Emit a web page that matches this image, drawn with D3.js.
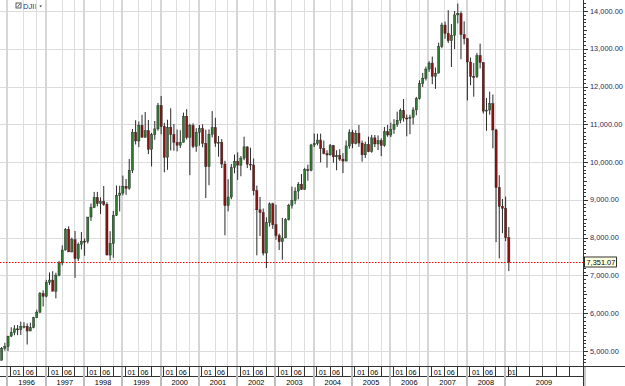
<!DOCTYPE html>
<html>
<head>
<meta charset="utf-8">
<script src="https://cdn.jsdelivr.net/npm/d3@7"></script>
<style>
  body { margin: 0; background: #fff; }
  svg { display: block; font-family: "Liberation Sans", Arial, sans-serif; }
</style>
</head>
<body>
<div id="chart"></div>
<script>
// monthly DJI candles, Nov 1995 .. Feb 2009
const firstMonth = new Date(1995, 10, 1)
const open = [
  4756, 5074,
  5117, 5395, 5486, 5587, 5569, 5643, 5655, 5529, 5616, 5882, 6029, 6522,
  6448, 6813, 6878, 6583, 7009, 7331, 7673, 8223, 7622, 7945, 7442, 7823,
  7908, 7907, 8546, 8800, 9063, 8900, 8952, 8883, 7539, 7843, 8592, 9117,
  9181, 9359, 9307, 9786, 10789, 10560, 10971, 10655, 10829, 10337, 10730, 10878,
  11497, 10941, 10128, 10922, 10734, 10522, 10448, 10522, 11215, 10651, 10971, 10414,
  10787, 10887, 10495, 9879, 10735, 10912, 10502, 10523, 9950, 8848, 9075, 9852,
  10022, 9920, 10106, 10404, 9946, 9925, 9243, 8737, 8664, 7592, 8397, 8896,
  8342, 8054, 7891, 7992, 8480, 8850, 8985, 9234, 9416, 9275, 9801, 9782,
  10454, 10488, 10584, 10358, 10226, 10188, 10435, 10140, 10174, 10080, 10027, 10428,
  10783, 10490, 10766, 10504, 10193, 10467, 10275, 10641, 10482, 10569, 10440, 10806,
  10718, 10865, 10993, 11109, 11367, 11168, 11150, 11186, 11381, 11679, 12081, 12222,
  12463, 12622, 12269, 12354, 13063, 13628, 13409, 13212, 13358, 13896, 13930, 13372,
  13265, 12650, 12266, 12263, 12820, 12638, 11350, 11378, 11544, 10851, 9325, 8829,
  8776, 8001
]
const high = [
  5106, 5217,
  5395, 5630, 5683, 5689, 5778, 5761, 5730, 5748, 5904, 6094, 6561, 6606,
  6883, 7079, 7113, 7071, 7383, 7796, 8254, 8299, 8000, 8178, 7874, 8149,
  7978, 8546, 8904, 9211, 9211, 9070, 9367, 8938, 8172, 8706, 9380, 9374,
  9643, 9553, 10085, 10878, 11108, 11075, 11252, 11326, 11116, 10772, 11089, 11568,
  11750, 11041, 11121, 11425, 11010, 10864, 10843, 11310, 11401, 11017, 11026, 10898,
  10984, 11002, 10858, 10866, 11350, 11175, 10690, 10610, 10035, 9545, 9951, 10200,
  10259, 10160, 10673, 10414, 10382, 10096, 9379, 9077, 8772, 8539, 8932, 8926,
  8869, 8109, 8522, 8515, 8897, 9352, 9334, 9470, 9686, 9849, 9933, 10484,
  10754, 10753, 10753, 10571, 10312, 10479, 10455, 10313, 10341, 10238, 10572, 10868,
  10854, 10845, 10984, 10570, 10542, 10675, 10720, 10719, 10705, 10632, 10931, 10984,
  11043, 11137, 11335, 11420, 11670, 11259, 11253, 11452, 11727, 12167, 12361, 12529,
  12671, 12795, 12505, 13162, 13693, 13720, 14022, 13657, 14000, 14198, 13990, 13727,
  13279, 12767, 12622, 12891, 13136, 12638, 11698, 11867, 11790, 10882, 9654, 9026,
  9088, 8280
]
const low = [
  4750, 5008,
  5000, 5370, 5418, 5420, 5424, 5602, 5171, 5525, 5600, 5870, 6004, 6180,
  6420, 6749, 6583, 6391, 6977, 7269, 7658, 7622, 7613, 6936, 7382, 7687,
  7522, 7844, 8444, 8780, 8828, 8628, 8844, 7539, 7400, 7468, 8575, 8695,
  9121, 9133, 9268, 9710, 10466, 10398, 10655, 10646, 10213, 9885, 10593, 10831,
  10738, 9731, 9796, 10306, 10299, 10284, 10374, 10521, 10600, 9654, 10367, 10273,
  10434, 10392, 9047, 9389, 10652, 10405, 10143, 9844, 8062, 8697, 9016, 9703,
  9529, 9626, 10052, 9841, 9785, 9120, 7532, 8043, 7528, 7197, 8295, 8233,
  7945, 7673, 7416, 7992, 8454, 8770, 8885, 9014, 9275, 9262, 9508, 9756,
  10397, 10442, 9991, 10206, 9852, 10179, 9984, 9784, 10031, 9708, 10025, 10354,
  10368, 10470, 10404, 10012, 10109, 10262, 10247, 10397, 10319, 10156, 10406, 10671,
  10661, 10749, 10932, 11029, 11071, 10683, 10740, 10996, 11239, 11655, 11988, 12160,
  12388, 12062, 11939, 12354, 13015, 13266, 13152, 12518, 12993, 13672, 12724, 13115,
  11634, 12036, 11731, 12224, 12479, 11288, 10827, 11255, 10365, 7882, 7449, 8119,
  7909, 7114
]
const close = [
  5074, 5117,
  5395, 5486, 5587, 5569, 5643, 5655, 5529, 5616, 5882, 6029, 6522, 6448,
  6813, 6878, 6583, 7009, 7331, 7673, 8223, 7622, 7945, 7442, 7823, 7908,
  7907, 8546, 8800, 9063, 8900, 8952, 8883, 7539, 7843, 8592, 9117, 9181,
  9359, 9307, 9786, 10789, 10560, 10971, 10655, 10829, 10337, 10730, 10878, 11497,
  10941, 10128, 10922, 10734, 10522, 10448, 10522, 11215, 10651, 10971, 10414, 10787,
  10887, 10495, 9879, 10735, 10912, 10502, 10523, 9950, 8848, 9075, 9852, 10022,
  9920, 10106, 10404, 9946, 9925, 9243, 8737, 8664, 7592, 8397, 8896, 8342,
  8054, 7891, 7992, 8480, 8850, 8985, 9234, 9416, 9275, 9801, 9782, 10454,
  10488, 10584, 10358, 10226, 10188, 10435, 10140, 10174, 10080, 10027, 10428, 10783,
  10490, 10766, 10504, 10193, 10467, 10275, 10641, 10482, 10569, 10440, 10806, 10718,
  10865, 10993, 11109, 11367, 11168, 11150, 11186, 11381, 11679, 12081, 12222, 12463,
  12622, 12269, 12354, 13063, 13628, 13409, 13212, 13358, 13896, 13930, 13372, 13265,
  12650, 12266, 12263, 12820, 12638, 11350, 11378, 11544, 10851, 9325, 8829, 8776,
  8001, 7351.07
]
const lastPrice = 7351.07
const years = [1996, 1997, 1998, 1999, 2000, 2001, 2002, 2003, 2004, 2005, 2006, 2007, 2008, 2009]
const yTicks = [5000, 6000, 7000, 8000, 9000, 10000, 11000, 12000, 13000, 14000]
const monthMarks = ["01", "06"]
const futureMarks = [159.4, 163.5, 167.7, 171.9, 176.1]   // empty boxes after last bar, month index

const W = 625, H = 386
const plot = {left: 0, right: 583, top: 0, bottom: 366}

const svg = d3.select("#chart").append("svg").attr("width", W).attr("height", H)
svg.append("rect").attr("width", W).attr("height", H).attr("fill", "#fff")

// month index 0 = Jan 1996
const xScale = d3.scaleLinear().domain([0, 156]).range([7.4, 505])
const yScale = d3.scaleLinear().domain([5000, 14000]).range([351, 11])

const bars = open.map((o, k) => {
  const d = d3.timeMonth.offset(firstMonth, k)
  return {idx: (d.getFullYear() - 1996) * 12 + d.getMonth(), o, h: high[k], l: low[k], c: close[k]}
})

svg.append("clipPath").attr("id", "clip").append("rect")
  .attr("x", plot.left).attr("y", plot.top)
  .attr("width", plot.right - plot.left).attr("height", plot.bottom - plot.top)
const g = svg.append("g").attr("clip-path", "url(#clip)")

// grid
const yearIdx = years.map(y => (y - 1996) * 12)
const thinIdx = []
yearIdx.slice(0, -1).forEach(i => { thinIdx.push(i + 5, i + 9) })
futureMarks.forEach(i => thinIdx.push(i))

g.selectAll(".hg").data(yTicks).join("line")
  .attr("x1", plot.left).attr("x2", plot.right)
  .attr("y1", d => Math.round(yScale(d)) + 0.5).attr("y2", d => Math.round(yScale(d)) + 0.5)
  .attr("stroke", "#dcdcdc")
g.selectAll(".vt").data(thinIdx).join("line")
  .attr("x1", d => Math.round(xScale(d)) + 0.5).attr("x2", d => Math.round(xScale(d)) + 0.5)
  .attr("y1", plot.top).attr("y2", plot.bottom)
  .attr("stroke", "#dedede")
g.selectAll(".vy").data(yearIdx).join("line")
  .attr("x1", d => Math.round(xScale(d))).attr("x2", d => Math.round(xScale(d)))
  .attr("y1", plot.top).attr("y2", plot.bottom)
  .attr("stroke", "#d6d6d6").attr("stroke-width", 2)

// candles
const cx = d => xScale(d.idx + 0.2)
g.selectAll(".wick").data(bars).join("line")
  .attr("x1", cx).attr("x2", cx)
  .attr("y1", d => yScale(d.h)).attr("y2", d => yScale(d.l))
  .attr("stroke", "#2a2a2a").attr("stroke-width", 1)
g.selectAll(".body").data(bars).join("rect")
  .attr("x", d => cx(d) - 1.1).attr("width", 2.2)
  .attr("y", d => yScale(Math.max(d.o, d.c)))
  .attr("height", d => Math.max(1, Math.abs(yScale(d.o) - yScale(d.c))))
  .attr("fill", d => d.c >= d.o ? "#2f7a32" : "#861414")
  .attr("stroke", "#222").attr("stroke-width", 0.4)

// last price line
const yLast = Math.round(yScale(lastPrice)) + 0.5
svg.append("line").attr("x1", plot.left).attr("x2", plot.right)
  .attr("y1", yLast).attr("y2", yLast)
  .attr("stroke", "#ff0000").attr("stroke-dasharray", "1.5,1.5")

// right axis
svg.append("line").attr("x1", plot.right + 0.5).attr("x2", plot.right + 0.5)
  .attr("y1", 0).attr("y2", H).attr("stroke", "#333")
const minor = d3.range(46, 143).map(v => v * 100)
svg.selectAll(".mt").data(minor).join("line")
  .attr("x1", plot.right + 1).attr("x2", d => plot.right + (d % 1000 === 0 ? 5 : (d % 500 === 0 ? 4 : 3)))
  .attr("y1", d => Math.round(yScale(d)) + 0.5).attr("y2", d => Math.round(yScale(d)) + 0.5)
  .attr("stroke", "#333")
svg.selectAll(".yl").data(yTicks).join("text")
  .attr("x", plot.right + 7).attr("y", d => yScale(d) + 2.6)
  .attr("font-size", 7.4).attr("fill", "#2a2a5c")
  .text(d => d3.format(",.2f")(d))

// last price tag
const tag = svg.append("g")
tag.append("rect").attr("x", plot.right + 1.5).attr("y", yLast - 5.5).attr("width", 32).attr("height", 10)
  .attr("fill", "#ffffe1").attr("stroke", "#000").attr("stroke-width", 0.8)
tag.append("text").attr("x", plot.right + 3.5).attr("y", yLast + 2.6)
  .attr("font-size", 7.4).attr("fill", "#000").text(d3.format(",.2f")(lastPrice))

// bottom axis
const ax = svg.append("g")
ax.append("rect").attr("x", 0).attr("y", plot.bottom).attr("width", plot.right).attr("height", H - plot.bottom).attr("fill", "#fff")
ax.append("line").attr("x1", 0).attr("x2", W).attr("y1", plot.bottom + 0.5).attr("y2", plot.bottom + 0.5).attr("stroke", "#333")
ax.append("line").attr("x1", 0).attr("x2", plot.right).attr("y1", 376.5).attr("y2", 376.5).attr("stroke", "#333")
ax.append("rect").attr("x", plot.right + 1).attr("y", plot.bottom + 1).attr("width", 2).attr("height", H - plot.bottom).attr("fill", "#c8c8c8")

const boxLines = []
yearIdx.slice(0, -1).forEach(i => boxLines.push(i + 0.8, i + 5, i + 9))
boxLines.push(156.8)
futureMarks.forEach(i => boxLines.push(i))
ax.selectAll(".bl").data(boxLines).join("line")
  .attr("x1", d => Math.round(xScale(d)) + 0.5).attr("x2", d => Math.round(xScale(d)) + 0.5)
  .attr("y1", plot.bottom).attr("y2", 376.5).attr("stroke", "#333")
ax.selectAll(".yb").data(yearIdx).join("line")
  .attr("x1", d => Math.round(xScale(d))).attr("x2", d => Math.round(xScale(d)))
  .attr("y1", plot.bottom + 1).attr("y2", H).attr("stroke", "#bdbdbd").attr("stroke-width", 2)

const mLabels = []
yearIdx.forEach((i, k) => {
  mLabels.push({t: monthMarks[0], a: i + 0.8, b: k === yearIdx.length - 1 ? futureMarks[0] : i + 5})
  if (k < yearIdx.length - 1) mLabels.push({t: monthMarks[1], a: i + 5, b: i + 9})
})
ax.selectAll(".ml").data(mLabels).join("text")
  .attr("x", d => (xScale(d.a) + xScale(d.b)) / 2).attr("y", 374.5)
  .attr("text-anchor", "middle").attr("font-size", 7.2).attr("fill", "#000")
  .text(d => d.t)

const yearEnd = (i, k) => k === years.length - 1 ? xScale.invert(plot.right) : i + 12
ax.selectAll(".yt").data(years).join("text")
  .attr("x", (d, k) => (xScale(yearIdx[k]) + xScale(yearEnd(yearIdx[k], k))) / 2).attr("y", 384.5)
  .attr("text-anchor", "middle").attr("font-size", 7.4).attr("fill", "#000")
  .text(d => d)

// symbol label
const sym = svg.append("g")
sym.append("rect").attr("x", 16).attr("y", 3).attr("width", 5).attr("height", 5)
  .attr("fill", "#fff").attr("stroke", "#333").attr("stroke-width", 0.8)
sym.append("line").attr("x1", 17.5).attr("y1", 7).attr("x2", 19.8).attr("y2", 4)
  .attr("stroke", "#333").attr("stroke-width", 0.8)
sym.append("text").attr("x", 23).attr("y", 8.6).attr("font-size", 7.6).attr("fill", "#243a9a")
  .text("DJI").append("tspan").attr("fill", "#c46a2a").text("I")
sym.append("path").attr("d", "M39.3,5.5 L42,5.5 L40.65,7.2 Z").attr("fill", "#333")
</script>
</body>
</html>
